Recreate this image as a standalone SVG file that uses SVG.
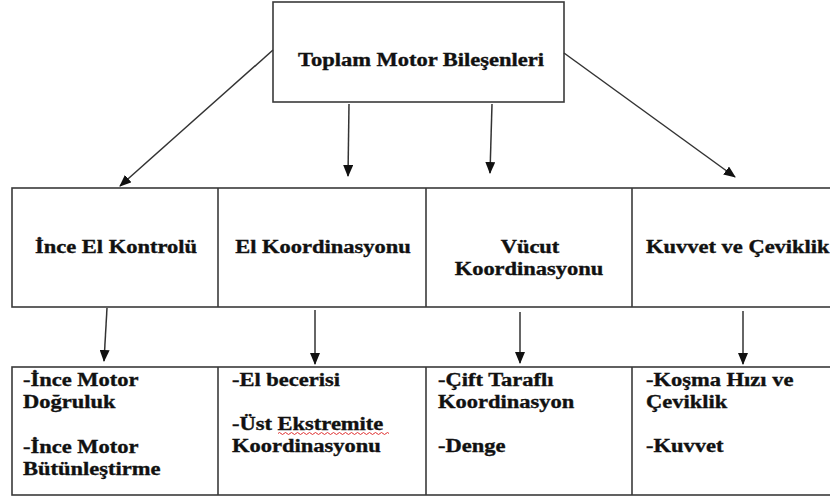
<svg xmlns="http://www.w3.org/2000/svg" width="830" height="497" viewBox="0 0 830 497">
<style>
  .box{fill:#fff;stroke:#3a3a3a;stroke-width:1.6}
  .ln{fill:none;stroke:#3a3a3a;stroke-width:1.6}
  .conn{fill:none;stroke:#333;stroke-width:1.5;marker-end:url(#ah)}
  .t{font-family:"Liberation Serif","Times New Roman",serif;font-weight:bold;font-size:18px;fill:#111;stroke:#111;stroke-width:0.35}
  .c{text-anchor:middle}
</style>
<defs>
  <marker id="ah" viewBox="0 0 12 10" refX="11" refY="5" markerWidth="12" markerHeight="10" markerUnits="userSpaceOnUse" orient="auto">
    <path d="M0,0 L12,5 L0,10 Z" fill="#111"/>
  </marker>
</defs>
<rect width="830" height="497" fill="#fff"/>

<g id="top">
  <rect class="box" x="273" y="2" width="291" height="100"/>
  <text class="t c" transform="translate(421,66) scale(1.25,1)">Toplam Motor Bileşenleri</text>
</g>

<g id="mid">
  <rect class="box" x="12" y="188" width="830" height="119"/>
  <line class="ln" x1="218" y1="188" x2="218" y2="307"/>
  <line class="ln" x1="426" y1="188" x2="426" y2="307"/>
  <line class="ln" x1="632" y1="188" x2="632" y2="307"/>
</g>
<g id="n1"><text class="t c" transform="translate(116,253) scale(1.25,1)">İnce El Kontrolü</text></g>
<g id="n2"><text class="t c" transform="translate(323,253) scale(1.25,1)">El Koordinasyonu</text></g>
<g id="n3">
  <text class="t c" transform="translate(530,253) scale(1.25,1)">Vücut</text>
  <text class="t c" transform="translate(529,275) scale(1.25,1)">Koordinasyonu</text>
</g>
<g id="n4"><text class="t" transform="translate(646,253) scale(1.25,1)">Kuvvet ve Çeviklik</text></g>

<g id="bottom">
  <rect class="box" x="12" y="367" width="830" height="128"/>
  <line class="ln" x1="218" y1="367" x2="218" y2="495"/>
  <line class="ln" x1="426" y1="367" x2="426" y2="495"/>
  <line class="ln" x1="632" y1="367" x2="632" y2="495"/>
</g>
<g id="b1">
  <text class="t" transform="translate(23,386) scale(1.25,1)">-İnce Motor</text>
  <text class="t" transform="translate(23,408) scale(1.25,1)">Doğruluk</text>
  <text class="t" transform="translate(23,453) scale(1.25,1)">-İnce Motor</text>
  <text class="t" transform="translate(23,475) scale(1.25,1)">Bütünleştirme</text>
</g>
<g id="b2">
  <text class="t" transform="translate(232,386) scale(1.25,1)">-El becerisi</text>
  <text class="t" transform="translate(232,430) scale(1.25,1)">-Üst Ekstremite</text>
  <path d="M278,433.5 q1.5,-2 3,0 t3,0 t3,0 t3,0 t3,0 t3,0 t3,0 t3,0 t3,0 t3,0 t3,0 t3,0 t3,0 t3,0 t3,0 t3,0 t3,0 t3,0 t3,0 t3,0 t3,0 t3,0 t3,0 t3,0 t3,0 t3,0 t3,0 t3,0 t3,0 t3,0 t3,0 t3,0 t3,0 t3,0 t3,0 t3,0 t3,0" fill="none" stroke="#e03030" stroke-width="1"/>
  <text class="t" transform="translate(232,452) scale(1.25,1)">Koordinasyonu</text>
</g>
<g id="b3">
  <text class="t" transform="translate(438,386) scale(1.25,1)">-Çift Taraflı</text>
  <text class="t" transform="translate(438,408) scale(1.25,1)">Koordinasyon</text>
  <text class="t" transform="translate(438,452) scale(1.25,1)">-Denge</text>
</g>
<g id="b4">
  <text class="t" transform="translate(646,386) scale(1.25,1)">-Koşma Hızı ve</text>
  <text class="t" transform="translate(646,408) scale(1.25,1)">Çeviklik</text>
  <text class="t" transform="translate(646,452) scale(1.25,1)">-Kuvvet</text>
</g>

<g id="connectors">
  <line class="conn" x1="273" y1="50" x2="120" y2="186"/>
  <line class="conn" x1="349" y1="104" x2="348" y2="176"/>
  <line class="conn" x1="492" y1="104" x2="490" y2="173"/>
  <line class="conn" x1="564" y1="53" x2="735" y2="177"/>
  <line class="conn" x1="107" y1="308" x2="104" y2="361"/>
  <line class="conn" x1="315" y1="310" x2="315" y2="364"/>
  <line class="conn" x1="520" y1="312" x2="520" y2="363"/>
  <line class="conn" x1="743" y1="311" x2="743" y2="364"/>
</g>
</svg>
